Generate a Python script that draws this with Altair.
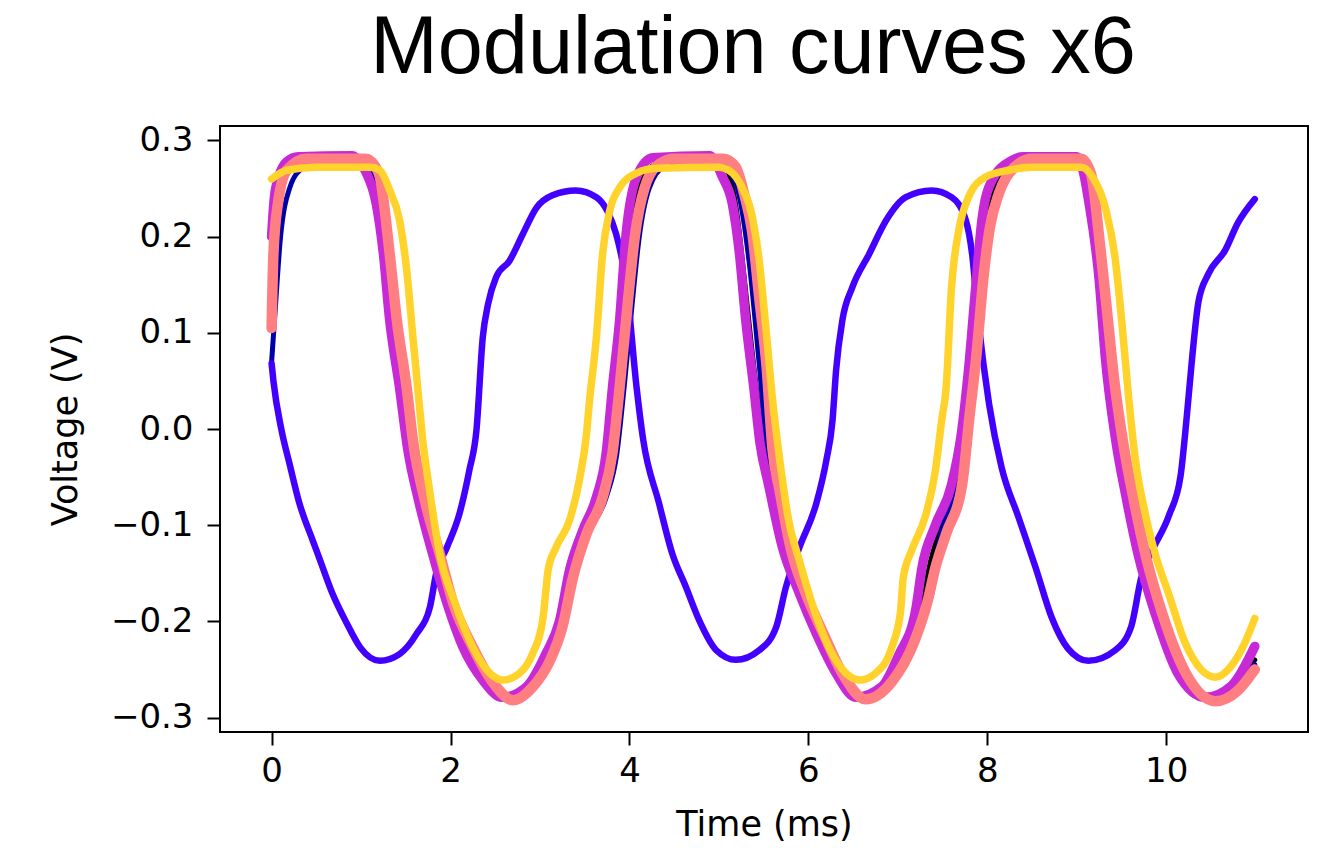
import altair as alt
import pandas as pd

# ---- data (time in ms, voltage in V) ----
T_BLACK = [0, 0.03, 0.1, 0.2, 0.4, 1.0, 1.1, 1.2, 1.28, 1.36, 1.47, 1.55, 1.68, 1.84, 2.0, 2.2, 2.42, 2.64, 2.88,
           3.09, 3.24, 3.35, 3.5, 3.67, 3.78, 3.85, 3.93, 4.01, 4.12, 4.3, 4.5, 5.0, 5.1, 5.2, 5.28, 5.36, 5.45,
           5.53, 5.63, 5.76, 5.94, 6.13, 6.35, 6.6, 6.88, 7.1, 7.27, 7.35, 7.47, 7.66, 7.76, 7.84, 7.91, 7.98,
           8.09, 8.3, 8.5, 9.02, 9.1, 9.2, 9.28, 9.38, 9.48, 9.6, 9.74, 9.92, 10.18, 10.5, 10.76, 10.99]
V_BLACK = [0.175, 0.22, 0.258, 0.274, 0.28, 0.28, 0.268, 0.225, 0.16, 0.09, 0.02, -0.02, -0.077, -0.13, -0.181,
           -0.227, -0.262, -0.278, -0.266, -0.236, -0.2, -0.15, -0.107, -0.071, -0.025, 0.043, 0.12, 0.2, 0.255,
           0.276, 0.28, 0.28, 0.268, 0.225, 0.16, 0.09, 0.02, -0.02, -0.062, -0.123, -0.172, -0.213, -0.254,
           -0.279, -0.265, -0.228, -0.185, -0.144, -0.105, -0.058, 0.005, 0.07, 0.15, 0.215, 0.252, 0.276, 0.28,
           0.28, 0.262, 0.2, 0.12, 0.04, -0.012, -0.072, -0.133, -0.193, -0.254, -0.281, -0.268, -0.24]

T_DARKBLUE = [0, 0.03, 0.1, 0.2, 0.35, 0.5, 1.0, 1.1, 1.18, 1.26, 1.34, 1.46, 1.55, 1.68, 1.84, 2.0, 2.2, 2.42,
              2.66, 2.9, 3.1, 3.26, 3.38, 3.54, 3.74, 3.86, 3.94, 4.03, 4.11, 4.22, 4.4, 4.6, 5.0, 5.1, 5.23,
              5.34, 5.45, 5.54, 5.64, 5.77, 5.95, 6.14, 6.36, 6.62, 6.9, 7.14, 7.3, 7.37, 7.46, 7.58, 7.76, 7.84,
              7.93, 8.01, 8.1, 8.2, 8.4, 8.6, 9.03, 9.11, 9.2, 9.29, 9.39, 9.49, 9.61, 9.75, 9.93, 10.19, 10.52,
              10.78, 10.99]
V_DARKBLUE = [0.07, 0.11, 0.2, 0.25, 0.272, 0.278, 0.278, 0.27, 0.235, 0.17, 0.1, 0.03, -0.02, -0.077, -0.13,
              -0.181, -0.227, -0.262, -0.279, -0.266, -0.236, -0.2, -0.152, -0.108, -0.071, -0.025, 0.043, 0.13,
              0.2, 0.25, 0.274, 0.278, 0.278, 0.27, 0.241, 0.172, 0.068, -0.022, -0.062, -0.123, -0.172, -0.213,
              -0.254, -0.28, -0.264, -0.226, -0.183, -0.175, -0.119, -0.08, -0.03, 0.04, 0.12, 0.19, 0.238, 0.262,
              0.275, 0.278, 0.278, 0.26, 0.2, 0.12, 0.04, -0.012, -0.072, -0.133, -0.193, -0.254, -0.281, -0.27,
              -0.245]

T_VIOLET = [0, 0.02, 0.11, 0.2, 0.31, 0.46, 0.54, 0.68, 0.84, 0.99, 1.21, 1.43, 1.62, 1.77, 1.84, 1.96, 2.1,
            2.21, 2.29, 2.36, 2.42, 2.51, 2.66, 2.81, 2.96, 3.14, 3.4, 3.63, 3.75, 3.85, 3.97, 4.08, 4.15, 4.33,
            4.48, 4.63, 4.78, 4.97, 5.19, 5.45, 5.64, 5.75, 5.9, 6.09, 6.2, 6.27, 6.31, 6.38, 6.49, 6.68, 6.87,
            7.09, 7.38, 7.6, 7.76, 7.83, 7.9, 8.02, 8.16, 8.35, 8.54, 8.72, 8.9, 9.13, 9.43, 9.61, 9.72, 9.84,
            10.03, 10.16, 10.23, 10.29, 10.36, 10.47, 10.66, 10.8, 10.99]
V_VIOLET = [0.068, 0.05, -0.001, -0.036, -0.077, -0.116, -0.136, -0.171, -0.202, -0.227, -0.241, -0.234, -0.213,
            -0.185, -0.15, -0.123, -0.088, -0.043, -0.001, 0.095, 0.13, 0.158, 0.175, 0.203, 0.23, 0.243, 0.248,
            0.241, 0.227, 0.203, 0.147, 0.043, -0.009, -0.077, -0.13, -0.164, -0.199, -0.23, -0.24, -0.23,
            -0.206, -0.164, -0.123, -0.077, -0.033, 0.009, 0.061, 0.113, 0.147, 0.182, 0.217, 0.241, 0.248,
            0.241, 0.217, 0.182, 0.113, 0.026, -0.04, -0.092, -0.144, -0.196, -0.228, -0.241, -0.23, -0.205,
            -0.155, -0.127, -0.09, -0.049, 0.013, 0.074, 0.132, 0.161, 0.186, 0.214, 0.239]

T_MAGENTA = [0, 0.03, 0.08, 0.17, 0.3, 0.9, 1.0, 1.06, 1.17, 1.25, 1.32, 1.43, 1.52, 1.65, 1.8, 1.96, 2.14,
             2.36, 2.58, 2.85, 3.07, 3.22, 3.33, 3.48, 3.63, 3.74, 3.81, 3.89, 3.96, 4.08, 4.26, 4.9, 4.97, 5.04,
             5.15, 5.23, 5.3, 5.39, 5.46, 5.56, 5.71, 5.9, 6.09, 6.31, 6.53, 6.82, 7.01, 7.2, 7.27, 7.42, 7.6,
             7.71, 7.79, 7.87, 7.94, 8.05, 8.27, 8.4, 9.0, 9.08, 9.13, 9.25, 9.32, 9.43, 9.55, 9.69, 9.88, 10.13,
             10.44, 10.73, 10.99]
V_MAGENTA = [0.2, 0.24, 0.262, 0.278, 0.283, 0.284, 0.276, 0.266, 0.234, 0.182, 0.113, 0.043, -0.02, -0.077,
             -0.13, -0.181, -0.227, -0.261, -0.279, -0.268, -0.233, -0.199, -0.147, -0.105, -0.071, -0.025, 0.043,
             0.113, 0.2, 0.262, 0.282, 0.284, 0.276, 0.262, 0.234, 0.182, 0.113, 0.043, -0.015, -0.06, -0.123,
             -0.171, -0.213, -0.254, -0.279, -0.268, -0.235, -0.188, -0.144, -0.1, -0.058, -0.005, 0.061, 0.147,
             0.217, 0.258, 0.279, 0.283, 0.283, 0.265, 0.239, 0.156, 0.074, -0.008, -0.07, -0.132, -0.193, -0.254,
             -0.279, -0.267, -0.226]

T_SALMON = [0, 0.02, 0.07, 0.17, 0.39, 1.05, 1.15, 1.21, 1.32, 1.4, 1.51, 1.58, 1.72, 1.88, 2.03, 2.25, 2.47,
            2.7, 2.92, 3.11, 3.25, 3.37, 3.52, 3.7, 3.81, 3.89, 3.98, 4.06, 4.17, 4.34, 4.5, 5.05, 5.19, 5.28,
            5.37, 5.45, 5.53, 5.6, 5.68, 5.8, 5.98, 6.17, 6.38, 6.64, 6.94, 7.18, 7.33, 7.42, 7.54, 7.72, 7.8,
            7.88, 7.96, 8.03, 8.13, 8.3, 8.5, 9.05, 9.16, 9.25, 9.33, 9.42, 9.52, 9.64, 9.78, 9.96, 10.22, 10.55,
            10.8, 10.99]
V_SALMON = [0.105, 0.182, 0.234, 0.269, 0.281, 0.281, 0.274, 0.262, 0.182, 0.113, 0.043, -0.012, -0.077, -0.13,
            -0.181, -0.227, -0.263, -0.282, -0.268, -0.241, -0.206, -0.154, -0.109, -0.071, -0.025, 0.043, 0.13,
            0.2, 0.251, 0.276, 0.281, 0.281, 0.272, 0.245, 0.206, 0.137, 0.068, -0.022, -0.065, -0.123, -0.173,
            -0.213, -0.254, -0.281, -0.262, -0.222, -0.18, -0.144, -0.109, -0.057, 0.012, 0.078, 0.16, 0.21,
            0.245, 0.272, 0.281, 0.281, 0.265, 0.2, 0.13, 0.05, -0.015, -0.075, -0.135, -0.193, -0.254, -0.283,
            -0.272, -0.25]

T_YELLOW = [0, 0.17, 0.5, 1.1, 1.21, 1.32, 1.43, 1.51, 1.58, 1.65, 1.69, 1.76, 1.88, 2.05, 2.25, 2.44, 2.58,
            2.77, 2.92, 3.03, 3.07, 3.09, 3.18, 3.33, 3.44, 3.52, 3.55, 3.63, 3.7, 3.78, 3.89, 4.08, 4.3, 5.0,
            5.11, 5.26, 5.37, 5.45, 5.53, 5.6, 5.67, 5.78, 5.9, 6.04, 6.23, 6.42, 6.57, 6.75, 6.94, 7.03, 7.06,
            7.16, 7.31, 7.42, 7.49, 7.54, 7.6, 7.68, 7.79, 7.98, 8.24, 8.5, 9.05, 9.17, 9.32, 9.43, 9.5, 9.58,
            9.65, 9.77, 9.88, 10.03, 10.21, 10.39, 10.55, 10.73, 10.88, 10.99]
V_YELLOW = [0.26, 0.269, 0.272, 0.272, 0.269, 0.248, 0.217, 0.165, 0.095, 0.026, -0.012, -0.06, -0.13, -0.181,
            -0.227, -0.254, -0.261, -0.254, -0.233, -0.199, -0.164, -0.147, -0.123, -0.095, -0.053, -0.005, 0.026,
            0.095, 0.182, 0.227, 0.251, 0.266, 0.271, 0.272, 0.269, 0.251, 0.222, 0.175, 0.1, 0.03, -0.025,
            -0.095, -0.137, -0.181, -0.227, -0.254, -0.261, -0.254, -0.225, -0.19, -0.155, -0.125, -0.09, -0.043,
            0.009, 0.043, 0.147, 0.206, 0.241, 0.262, 0.269, 0.272, 0.272, 0.263, 0.23, 0.177, 0.115, 0.033,
            -0.028, -0.09, -0.131, -0.172, -0.222, -0.25, -0.258, -0.246, -0.222, -0.197]

SERIES = [
    ("black", T_BLACK, V_BLACK, "#000000", 5),
    ("darkblue", T_DARKBLUE, V_DARKBLUE, "#0000aa", 5),
    ("violet", T_VIOLET, V_VIOLET, "#4200ff", 6.5),
    ("magenta", T_MAGENTA, V_MAGENTA, "#c729d6", 9.5),
    ("salmon", T_SALMON, V_SALMON, "#ff7e81", 10.5),
    ("yellow", T_YELLOW, V_YELLOW, "#ffd32c", 7.5),
]

X_TICKS = [0, 2, 4, 6, 8, 10]
Y_TICKS = [-0.3, -0.2, -0.1, 0.0, 0.1, 0.2, 0.3]

FONT = "DejaVu Sans"

x_enc = alt.X(
    "t:Q",
    scale=alt.Scale(domain=[-0.577, 11.585], nice=False, zero=False),
    axis=alt.Axis(
        values=X_TICKS, format="d", grid=False, domain=False,
        labelFont=FONT, labelFontSize=34, labelColor="black", labelPadding=9,
        tickColor="black", tickWidth=2, tickSize=13,
        title="Time (ms)", titleFont=FONT, titleFontSize=35, titleFontWeight="normal",
        titleColor="black", titleX=544, titleY=103, titleBaseline="alphabetic",
    ),
)
y_enc = alt.Y(
    "v:Q",
    scale=alt.Scale(domain=[-0.315, 0.315], nice=False, zero=False),
    axis=alt.Axis(
        values=Y_TICKS, format=".1f", grid=False, domain=False,
        labelFont=FONT, labelFontSize=34, labelColor="black", labelPadding=14,
        tickColor="black", tickWidth=2, tickSize=13,
        title="Voltage (V)", titleFont=FONT, titleFontSize=35, titleFontWeight="normal",
        titleColor="black", titleAngle=270, titleX=-144, titleY=303, titleBaseline="alphabetic",
    ),
)

layers = []
for name, t, v, color, w in SERIES:
    df = pd.DataFrame({"t": t, "v": v})
    layers.append(
        alt.Chart(df).mark_line(
            color=color, strokeWidth=w, interpolate="monotone",
            strokeCap="round", strokeJoin="round", clip=True,
        ).encode(x=x_enc, y=y_enc)
    )

chart = (
    alt.layer(*layers)
    .properties(
        width=1088,
        height=606,
        title=alt.TitleParams(
            "Modulation curves x6", font="Liberation Sans", fontSize=81, fontWeight="normal",
            color="black", anchor="middle", offset=33, dx=-11,
        ),
        autosize=alt.AutoSizeParams(type="none"),
        padding={"left": 212, "top": 118, "right": 11, "bottom": 110},
    )
    .configure(background="white", view=alt.ViewConfig(stroke="black", strokeWidth=2))
)

chart.save("out.html", embed_options={"renderer": "svg", "actions": False})
